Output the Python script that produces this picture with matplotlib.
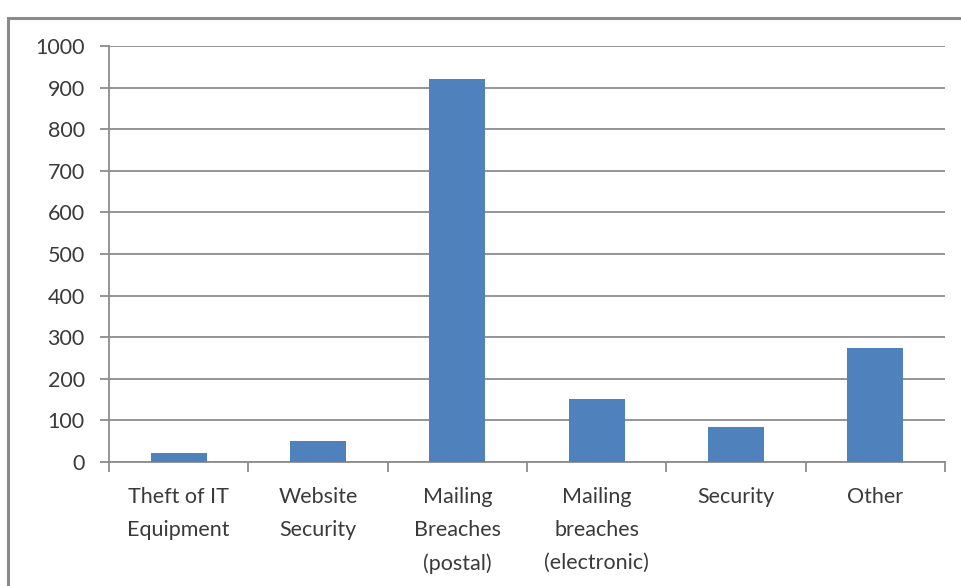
import numpy as np
import matplotlib.pyplot as plt
from matplotlib.patches import Rectangle

categories = ['Theft of IT\nEquipment', 'Website\nSecurity', 'Mailing\nBreaches\n(postal)',
              'Mailing\nbreaches\n(electronic)', 'Security', 'Other']
values = [22, 51, 920, 151, 85, 273]

bar_color = '#4F81BD'
grid_color = '#8C8C8C'
text_color = '#3A3A3A'

plt.rcParams['font.family'] = ['Lato', 'DejaVu Sans']

fig = plt.figure(figsize=(9.62, 5.86), dpi=100)
ax = fig.add_axes([0.1133, 0.2116, 0.869, 0.7099])

# grey frame around the chart area (only left/top visible in original)
fig.patches.append(Rectangle((0.0085, -0.05), 1.2, 1.02, transform=fig.transFigure,
                             fill=False, edgecolor='#8a8a8a', linewidth=2.2))

ind = np.arange(len(values))
ax.bar(ind, values, 0.4, color=bar_color, zorder=3)

ax.set_xlim(-0.5, len(values) - 0.5)
ax.set_ylim(0, 1000)
ax.set_yticks(np.arange(0, 1001, 100))
ax.yaxis.grid(True, color=grid_color, linewidth=1.3, zorder=0)

ax.set_xticks(ind)
ax.set_xticklabels(categories)
ax.set_xticks(np.arange(-0.5, len(values), 1), minor=True)
ax.tick_params(axis='x', which='major', length=0, pad=18, labelsize=15.5, colors=text_color)
ax.tick_params(axis='x', which='minor', length=7, width=1.3, color=grid_color)
ax.tick_params(axis='y', length=6.5, width=1.3, color=grid_color, pad=11,
               labelsize=15.5, labelcolor=text_color)
for lbl in ax.get_xticklabels():
    lbl.set_linespacing(1.8)
    lbl.set_verticalalignment('top')

for s in ['top', 'right']:
    ax.spines[s].set_visible(False)
for s in ['left', 'bottom']:
    ax.spines[s].set_color(grid_color)
    ax.spines[s].set_linewidth(1.3)

fig.savefig('out.png', dpi=100)
